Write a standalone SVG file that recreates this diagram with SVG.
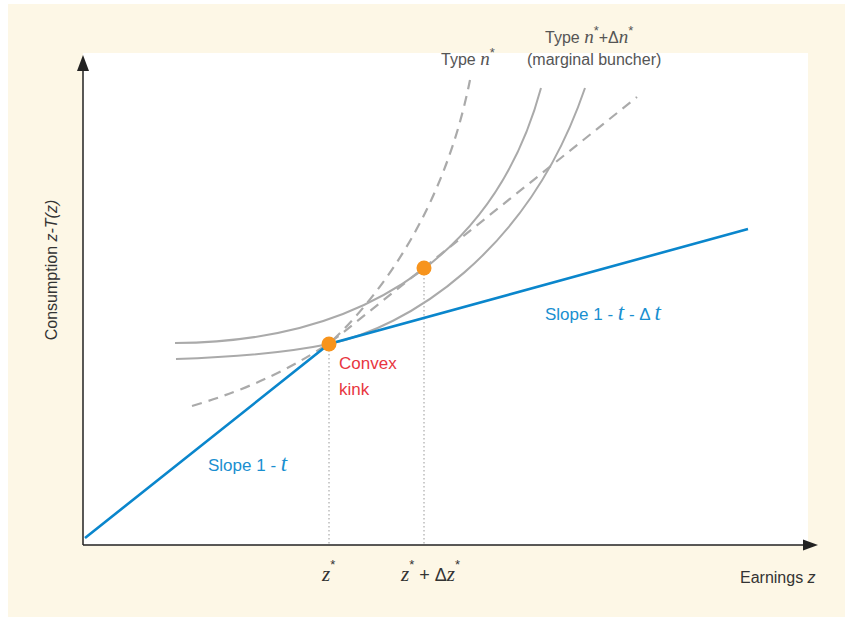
<svg xmlns="http://www.w3.org/2000/svg" width="853" height="621" viewBox="0 0 853 621">
<style>
.lbl{font-family:"Liberation Sans","DejaVu Sans",sans-serif;font-size:16px;fill:#555}
.ax{font-family:"Liberation Sans","DejaVu Sans",sans-serif;font-size:16px;fill:#333}
.blue{font-family:"Liberation Sans","DejaVu Sans",sans-serif;font-size:17px;fill:#1a8fd0}
.red{font-family:"Liberation Sans","DejaVu Sans",sans-serif;font-size:17px;fill:#e8363f}
.sol{fill:none;stroke:#aaaaaa;stroke-width:2}
.dash{fill:none;stroke:#aaaaaa;stroke-width:2.2;stroke-dasharray:10 7}
.dot{fill:none;stroke:#999;stroke-width:1;stroke-dasharray:1.5 2.5}
.axis{stroke:#222;stroke-width:1.5;fill:none}
</style>
<rect x="8" y="4" width="837" height="613" fill="#fdf7e6"/>
<rect x="83" y="53" width="725" height="492" fill="#ffffff"/>
<g id="axes">
<line class="axis" x1="83" y1="545" x2="83" y2="66"/>
<polygon points="83,55 89,71 77,71" fill="#222"/>
<line class="axis" x1="83" y1="545" x2="808" y2="545"/>
<polygon points="818,545 803,539.5 803,550.5" fill="#222"/>
</g>
<g id="connectors">
<line class="dot" x1="329" y1="350" x2="329" y2="545"/>
<line class="dot" x1="424" y1="274" x2="424" y2="545"/>
<path class="sol" d="M175,343 C380,342 500,240 541,88"/>
<path class="sol" d="M176,359 C240,357 290,352 329,344 C405,328 528,255 585,88"/>
<path class="dash" d="M192,406 Q280,380 340,335 L637,97"/>
<path class="dash" d="M333,340 C385,290 445,205 470,80"/>
<polyline points="85,538 329,344 748,229" fill="none" stroke="#0a86cc" stroke-width="2.6"/>
</g>
<g id="kink">
<circle cx="329" cy="344" r="7.5" fill="#f7941d"/>
<text class="red" x="339" y="369">Convex</text>
<text class="red" x="339" y="395">kink</text>
</g>
<g id="bunch">
<circle cx="424" cy="268" r="7.5" fill="#f7941d"/>
</g>
<g id="labels">
<text class="lbl" x="441" y="65">Type <tspan style="font-family:'Liberation Serif',serif;font-style:italic;font-size:19px">n</tspan><tspan dy="-8" style="font-size:13px">*</tspan></text>
<text class="lbl" x="545" y="43">Type <tspan style="font-family:'Liberation Serif',serif;font-style:italic;font-size:19px">n</tspan><tspan dy="-8" style="font-size:13px">*</tspan><tspan dy="8">+Δ</tspan><tspan style="font-family:'Liberation Serif',serif;font-style:italic;font-size:19px">n</tspan><tspan dy="-8" style="font-size:13px">*</tspan></text>
<text class="lbl" x="527" y="65">(marginal buncher)</text>
<text class="blue" x="545" y="320">Slope 1 -  <tspan style="font-family:'Liberation Serif',serif;font-style:italic;font-size:23px">t</tspan> - Δ <tspan style="font-family:'Liberation Serif',serif;font-style:italic;font-size:23px">t</tspan></text>
<text class="blue" x="208" y="471">Slope 1 - <tspan style="font-family:'Liberation Serif',serif;font-style:italic;font-size:23px">t</tspan></text>
<text class="ax" x="740" y="583">Earnings <tspan style="font-style:italic">z</tspan></text>
<text class="ax" transform="translate(57,270) rotate(-90)" text-anchor="middle">Consumption <tspan style="font-style:italic">z-T(z)</tspan></text>
<text class="ax" x="322" y="581"><tspan style="font-family:'Liberation Serif',serif;font-style:italic;font-size:21px">z</tspan><tspan dy="-12" style="font-size:13px">*</tspan></text>
<text class="ax" x="401" y="581"><tspan style="font-family:'Liberation Serif',serif;font-style:italic;font-size:21px">z</tspan><tspan dy="-12" style="font-size:13px">*</tspan><tspan dy="12" style="font-size:18px"> + Δ</tspan><tspan style="font-family:'Liberation Serif',serif;font-style:italic;font-size:21px">z</tspan><tspan dy="-12" style="font-size:13px">*</tspan></text>
</g>
</svg>
